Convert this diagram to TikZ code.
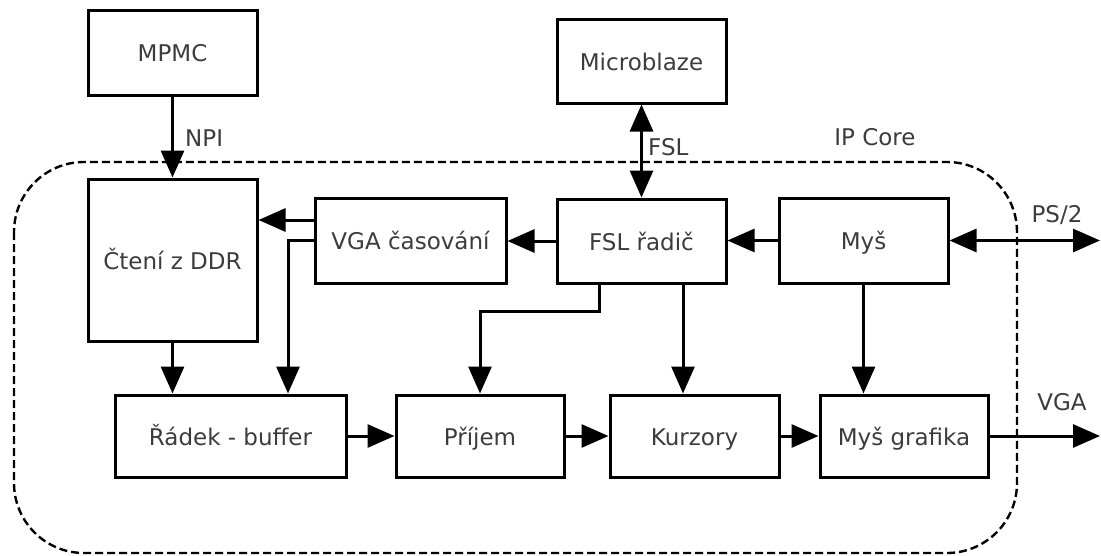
\documentclass[tikz,border=0pt]{standalone}
\usepackage{fontspec}
\setmainfont{DejaVu Sans}
\usetikzlibrary{arrows.meta}
\definecolor{txt}{HTML}{3C3C3C}
\begin{document}
\begin{tikzpicture}[x=1pt,y=1pt,
  font=\fontsize{23}{27}\selectfont,
  blk/.style={draw=black, line width=3pt, inner sep=0pt, text=txt, text height=18pt, text depth=0pt},
  arr/.style={line width=3pt, -{Triangle[length=27pt,width=23pt]}},
  arrboth/.style={line width=3pt, {Triangle[length=27pt,width=23pt]}-{Triangle[length=27pt,width=23pt]}},
  lbl/.style={text=txt, inner sep=0pt},
  border/.style={draw=black, line width=2.4pt, dash pattern=on 8pt off 4pt, rounded corners=70pt}]
\useasboundingbox (0,0) rectangle (1101,-555);

% IP core outline
\draw[border] (14,-162) rectangle (1017,-553);
\node[lbl] (ipcore) at (875,-137) {IP Core};

% blocks
\node[blk, minimum width=169pt, minimum height=85pt]  (mpmc)   at (172.5,-52.5) {MPMC};
\node[blk, minimum width=169pt, minimum height=84pt]  (micro)  at (641.5,-61)   {Microblaze};
\node[blk, minimum width=169pt, minimum height=162pt] (ddr)    at (172.5,-260)  {Čtení z DDR};
\node[blk, minimum width=191pt, minimum height=85pt]  (vga)    at (410.5,-240.5) {VGA časování};
\node[blk, minimum width=169pt, minimum height=84pt]  (fsl)    at (641.5,-241)  {FSL řadič};
\node[blk, minimum width=169pt, minimum height=85pt]  (mys)    at (863.5,-240.5) {Myš};
\node[blk, minimum width=231pt, minimum height=82pt]  (radek)  at (230.5,-436)  {Řádek - buffer};
\node[blk, minimum width=168pt, minimum height=82pt]  (prijem) at (480,-436)    {Příjem};
\node[blk, minimum width=169pt, minimum height=82pt]  (kurz)   at (694.5,-436)  {Kurzory};
\node[blk, minimum width=168pt, minimum height=82pt]  (mysg)   at (904,-436)    {Myš grafika};

% external ends
\coordinate (ps2end) at (1100,-240.5);
\coordinate (vgaend) at (1100,-436);

% memory interface
\draw[arr] (mpmc.south) -- (ddr.north);
\node[lbl, anchor=west] (npi) at (185,-138) {NPI};

% processor link
\draw[arrboth] (micro.south) -- (fsl.north);
\node[lbl, anchor=west] (fsllbl) at (648,-147) {FSL};

% control paths
\draw[arr] (fsl.west) -- (fsl.west -| vga.east);
\coordinate (vgaup) at ([yshift=20.5pt]vga.west);
\draw[arr] (vgaup) -- (vgaup -| ddr.east);
\coordinate (radekin) at ([xshift=57.5pt]radek.north);
\draw[arr] (vga.west) -| (radekin);
\draw[arr] (ddr.south) -- (ddr.south |- radek.north);
\coordinate (fslout1) at ([xshift=-42.5pt]fsl.south);
\draw[arr] (fslout1) -- ++(0,-27) -| (prijem.north);
\coordinate (fslout2) at ([xshift=41.5pt]fsl.south);
\draw[arr] (fslout2) -- (fslout2 |- kurz.north);
\draw[arr] (mys.west) -- (mys.west -| fsl.east);
\draw[arr] (mys.south) -- (mys.south |- mysg.north);
\draw[arrboth] (mys.east) -- (ps2end);
\node[lbl] (ps2) at (1057,-215) {PS/2};

% pixel pipeline
\draw[arr] (radek.east) -- (prijem.west);
\draw[arr] (prijem.east) -- (kurz.west);
\draw[arr] (kurz.east) -- (mysg.west);
\draw[arr] (mysg.east) -- (vgaend);
\node[lbl] (vgalbl) at (1062,-402) {VGA};
\end{tikzpicture}
\end{document}
